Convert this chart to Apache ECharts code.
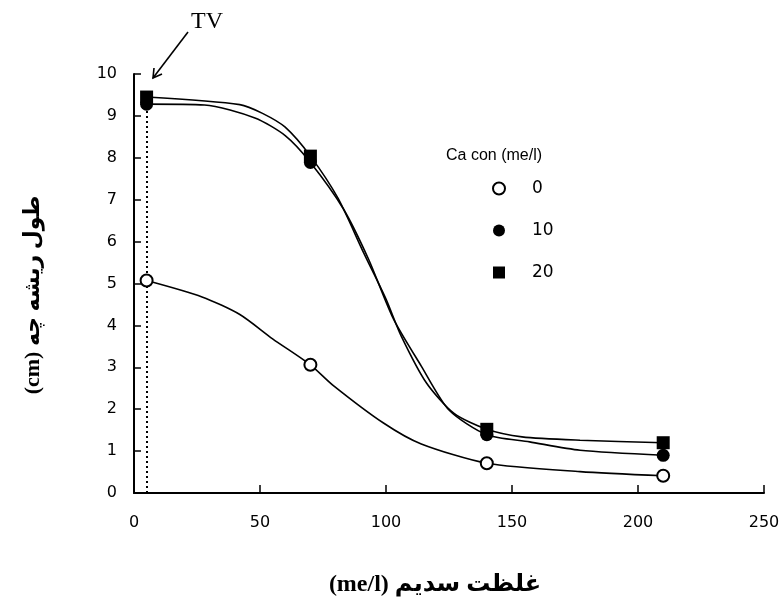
<!DOCTYPE html>
<html>
<head>
<meta charset="utf-8">
<script src="https://cdn.jsdelivr.net/npm/echarts@6/dist/echarts.min.js"></script>
<style>html,body{margin:0;padding:0;background:#fff}#c{width:780px;height:610px}</style>
</head>
<body>
<div id="c"></div>
<script>
// Sodium concentration (me/l) of measured points
const naConc = [5, 70, 140, 210];
// Root length (cm) for each Ca concentration
const rootLen0 = [5.07, 3.06, 0.71, 0.41];
const rootLen10 = [9.28, 7.89, 1.39, 0.90];
const rootLen20 = [9.45, 8.04, 1.52, 1.20];
// fitted curves
const fit0X = [5, 27, 42, 55, 70, 79, 99, 114, 140, 177, 210];
const fit0Y = [5.07, 4.68, 4.26, 3.68, 3.06, 2.57, 1.67, 1.17, 0.71, 0.51, 0.41];
const fit10X = [5, 28, 48, 60, 70, 83, 93, 103, 114, 125, 140, 157, 177, 210];
const fit10Y = [9.28, 9.26, 8.95, 8.53, 7.89, 6.79, 5.59, 4.15, 3.03, 1.98, 1.39, 1.22, 1.02, 0.90];
const fit20X = [5, 42, 51, 60, 70, 81, 91, 100, 106, 116, 127, 140, 154, 177, 210];
const fit20Y = [9.45, 9.27, 9.06, 8.73, 8.04, 7.03, 5.75, 4.63, 3.75, 2.63, 1.90, 1.52, 1.34, 1.26, 1.20];
const tvX = 5;
const xTicks = [0, 50, 100, 150, 200, 250];
const yTicks = [0, 1, 2, 3, 4, 5, 6, 7, 8, 9, 10];
const legendNames = ['0', '10', '20'];

const zip = (xs, ys) => xs.map((x, i) => [x, ys[i]]);
const chart = echarts.init(document.getElementById('c'), null, {renderer: 'canvas'});
const lineStyle = {color: '#000', width: 1.6};
const fitSeries = (xs, ys) => ({
  type: 'line', data: zip(xs, ys), smooth: 0.25, showSymbol: false, symbol: 'none',
  lineStyle: lineStyle, z: 2, silent: true
});
const option = {
  backgroundColor: '#fff',
  animation: false,
  title: {
    text: 'Ca con (me/l)', left: 441, top: 143,
    textStyle: {fontFamily: 'Liberation Sans Narrow, Liberation Sans, sans-serif', fontSize: 16, fontWeight: 'normal', color: '#000'}
  },
  legend: {
    data: legendNames, orient: 'vertical', left: 487, top: 175,
    itemWidth: 12, itemHeight: 12, itemGap: 25,
    textStyle: {fontFamily: 'DejaVu Sans', fontSize: 17, color: '#000', padding: [0, 0, 0, 22]}
  },
  grid: {left: 134, right: 16, top: 74, bottom: 117, containLabel: false, outerBoundsMode: 'none'},
  xAxis: {
    type: 'value', min: xTicks[0], max: xTicks[xTicks.length - 1], interval: 50,
    axisLine: {lineStyle: {color: '#000', width: 2}},
    axisTick: {inside: true, length: 8, lineStyle: {color: '#000', width: 1.5}},
    axisLabel: {margin: 22, fontFamily: 'DejaVu Sans', fontSize: 16, color: '#000'},
    splitLine: {show: false}
  },
  yAxis: {
    type: 'value', min: yTicks[0], max: yTicks[yTicks.length - 1], interval: 1,
    axisLine: {show: true, lineStyle: {color: '#000', width: 2}},
    axisTick: {show: true, inside: true, length: 7, lineStyle: {color: '#000', width: 1.5}},
    axisLabel: {margin: 17, fontFamily: 'DejaVu Sans', fontSize: 16, color: '#000'},
    splitLine: {show: false}
  },
  graphic: [
    {type: 'text', left: 191, top: 10, style: {text: 'TV', font: '24px "Liberation Serif"', fill: '#000'}},
    {type: 'line', shape: {x1: 188, y1: 32, x2: 153, y2: 78}, style: {stroke: '#000', lineWidth: 1.6}},
    {type: 'polyline', shape: {points: [[162, 74], [153, 78], [154, 68]]}, style: {stroke: '#000', lineWidth: 1.6, fill: null}},
    {type: 'text', x: 435, y: 585, style: {text: '(me/l) غلظت سدیم', font: 'bold 24px "Liberation Serif", "DejaVu Sans"', fill: '#000', align: 'center', verticalAlign: 'middle'}},
    {type: 'text', x: 33, y: 295, rotation: Math.PI / 2, style: {text: '(cm) طول ریشه چه', font: 'bold 22px "Liberation Serif", "DejaVu Sans"', fill: '#000', align: 'center', verticalAlign: 'middle'}}
  ],
  series: [
    fitSeries(fit0X, fit0Y),
    fitSeries(fit10X, fit10Y),
    fitSeries(fit20X, fit20Y),
    {name: '0', type: 'scatter', data: zip(naConc, rootLen0), symbol: 'emptyCircle', symbolSize: 12, z: 5,
     itemStyle: {color: '#000', borderColor: '#000', borderWidth: 1.7, opacity: 1}},
    {name: '10', type: 'scatter', data: zip(naConc, rootLen10), symbol: 'circle', symbolSize: 13, z: 5,
     itemStyle: {color: '#000', opacity: 1}},
    {name: '20', type: 'scatter', data: zip(naConc, rootLen20), symbol: 'rect', symbolSize: 13, z: 6,
     itemStyle: {color: '#000', opacity: 1},
     markLine: {silent: true, symbol: 'none', label: {show: false},
       lineStyle: {type: [2, 3], color: '#000', width: 2},
       data: [[{coord: [tvX, 0]}, {coord: [tvX, rootLen20[0]]}]]}}
  ]
};
chart.setOption(option);
</script>
</body>
</html>
